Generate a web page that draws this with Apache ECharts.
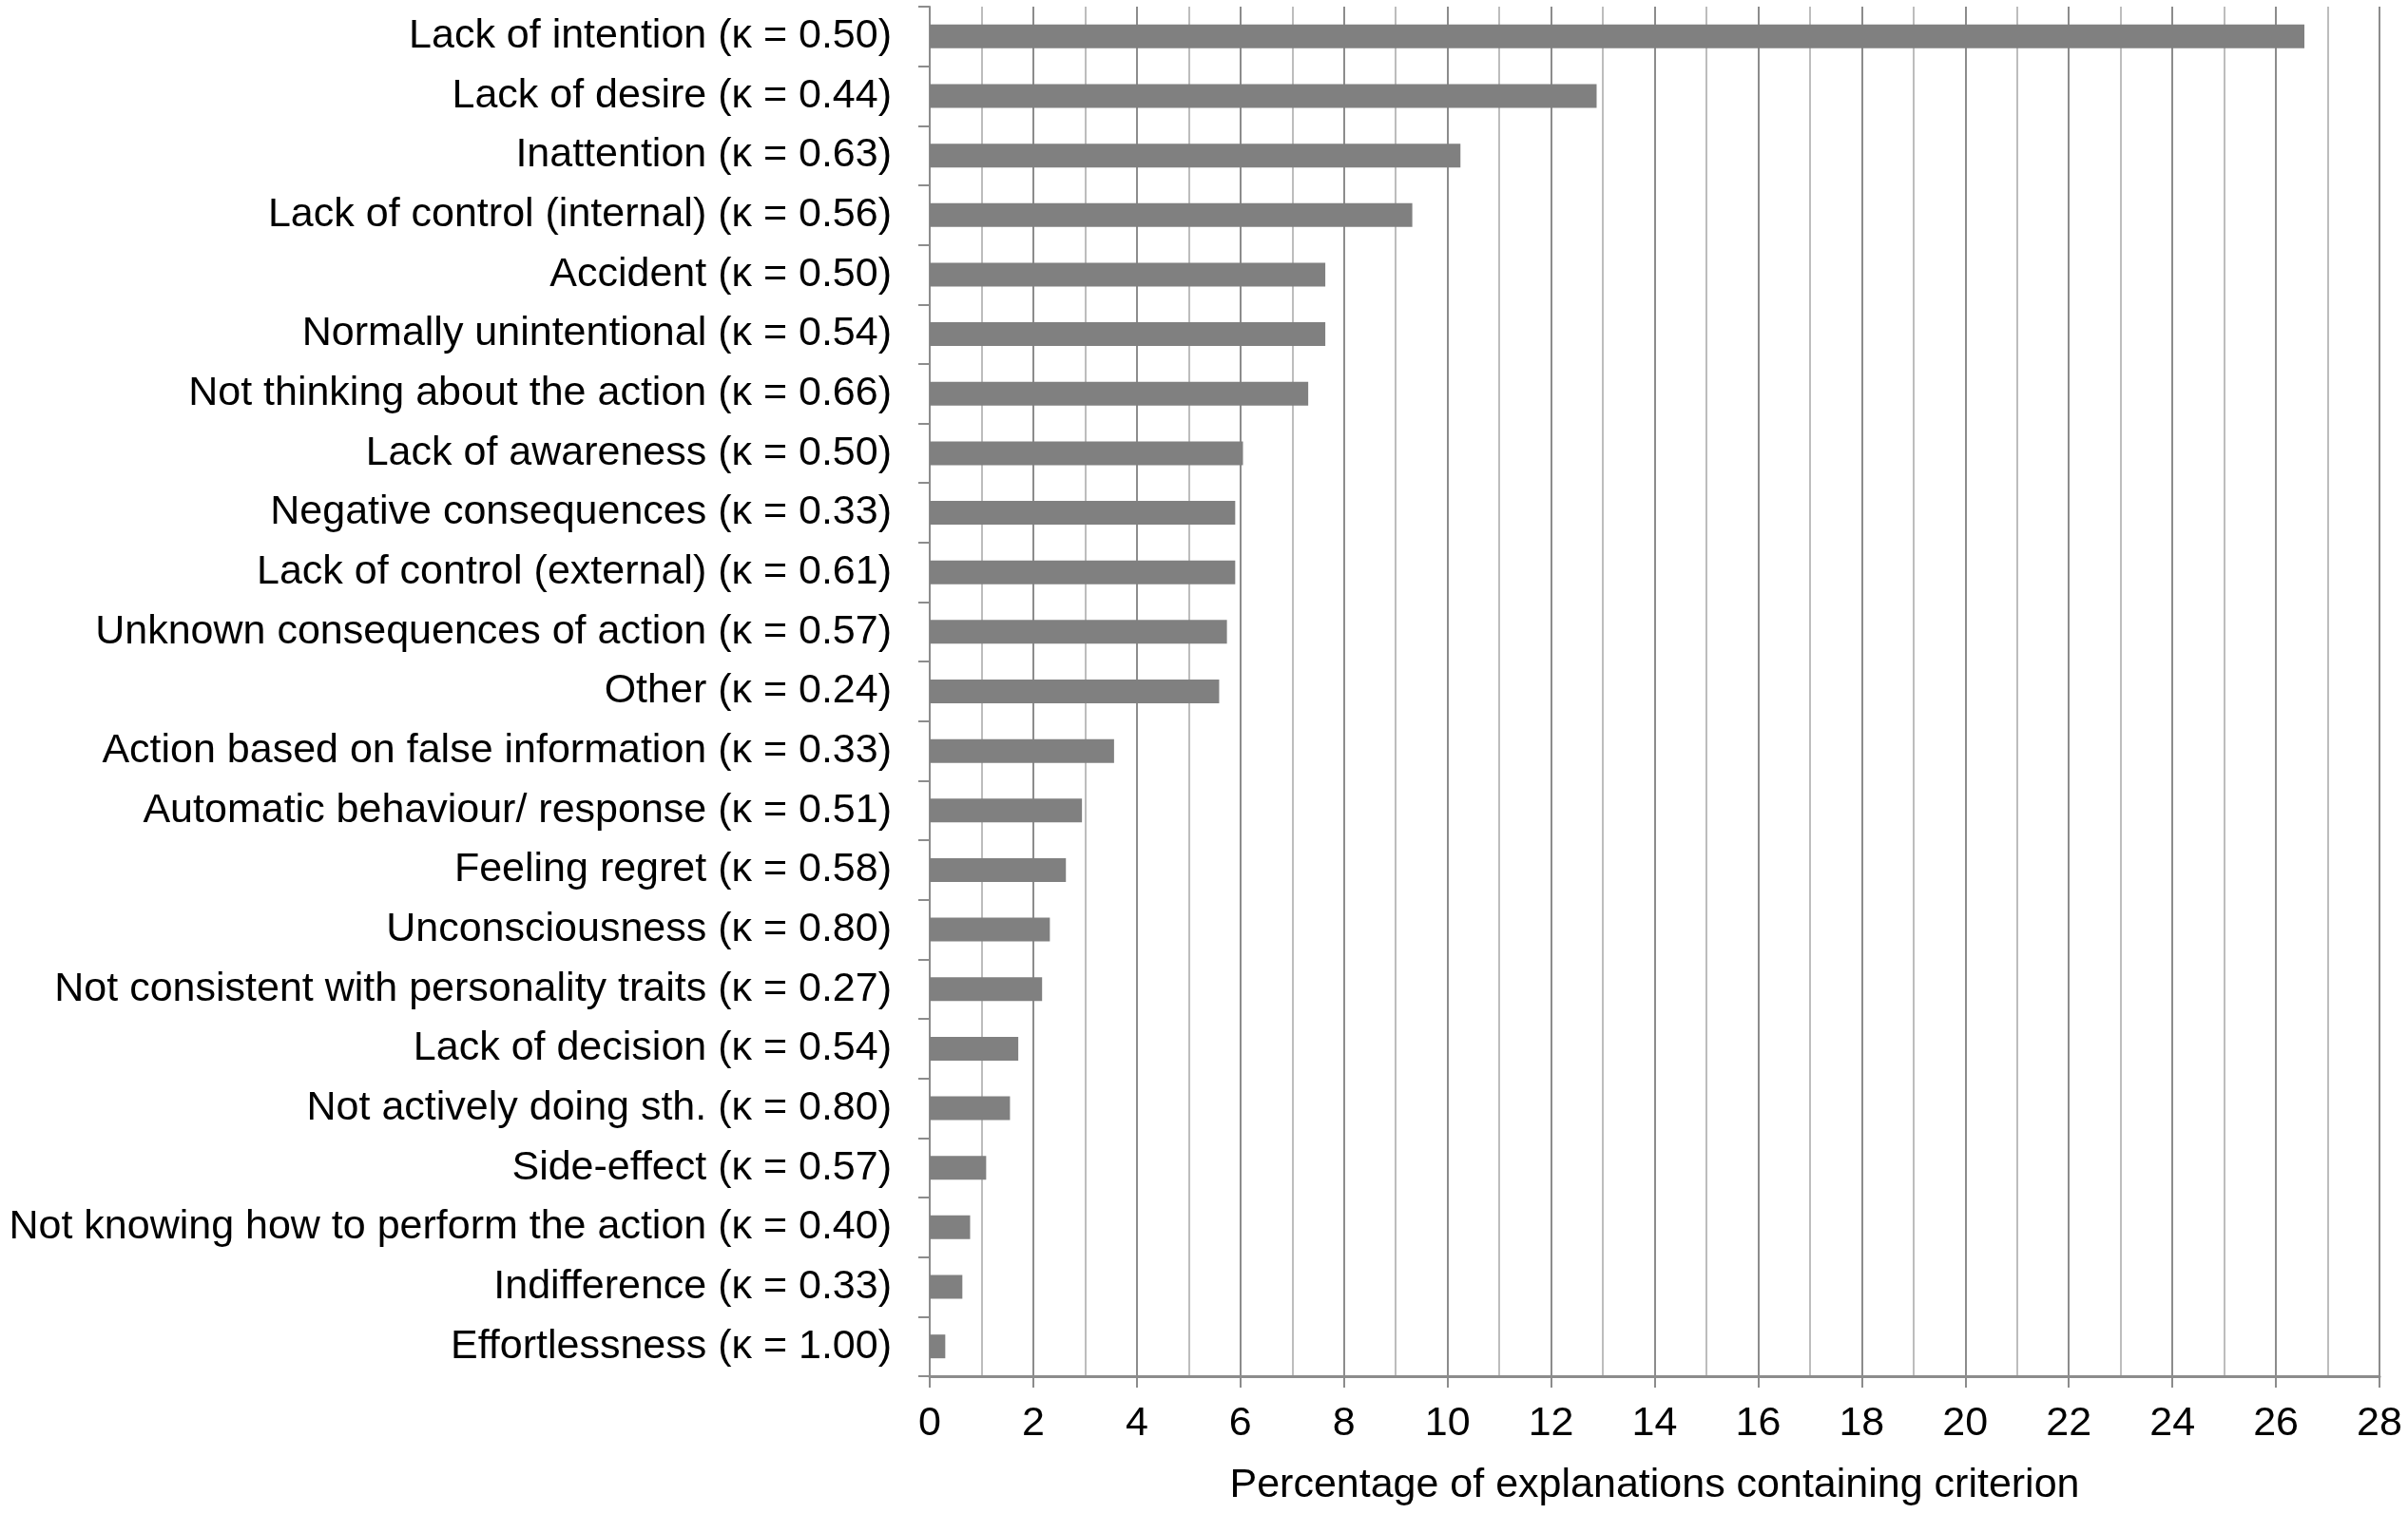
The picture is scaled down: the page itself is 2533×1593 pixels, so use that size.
<!DOCTYPE html>
<html>
<head>
<meta charset="utf-8">
<script src="https://cdn.jsdelivr.net/npm/echarts@6/dist/echarts.min.js"></script>
<style>
html,body{margin:0;padding:0;background:#fff;}
#chart{width:2533px;height:1593px;}
</style>
</head>
<body>
<div id="chart"></div>
<script>
const categories = [
  "Lack of intention (κ = 0.50)",
  "Lack of desire (κ = 0.44)",
  "Inattention (κ = 0.63)",
  "Lack of control (internal) (κ = 0.56)",
  "Accident (κ = 0.50)",
  "Normally unintentional (κ = 0.54)",
  "Not thinking about the action (κ = 0.66)",
  "Lack of awareness (κ = 0.50)",
  "Negative consequences (κ = 0.33)",
  "Lack of control (external) (κ = 0.61)",
  "Unknown consequences of action (κ = 0.57)",
  "Other (κ = 0.24)",
  "Action based on false information (κ = 0.33)",
  "Automatic behaviour/ response (κ = 0.51)",
  "Feeling regret (κ = 0.58)",
  "Unconsciousness (κ = 0.80)",
  "Not consistent with personality traits (κ = 0.27)",
  "Lack of decision (κ = 0.54)",
  "Not actively doing sth. (κ = 0.80)",
  "Side-effect (κ = 0.57)",
  "Not knowing how to perform the action (κ = 0.40)",
  "Indifference (κ = 0.33)",
  "Effortlessness (κ = 1.00)"
];
const percentages = [
  26.55, 12.88, 10.25, 9.32, 7.64, 7.64, 7.31, 6.05, 5.90, 5.90, 5.74, 5.59,
  3.56, 2.94, 2.63, 2.32, 2.17, 1.71, 1.55, 1.09, 0.78, 0.63, 0.30
];
const xTicks = { min: 0, max: 28, interval: 2 };
const xTitle = "Percentage of explanations containing criterion";

const FONT = "'Liberation Sans', Arial, Helvetica, sans-serif";
const chart = echarts.init(document.getElementById('chart'), null, {renderer: 'canvas'});
chart.setOption({
  animation: false,
  backgroundColor: '#ffffff',
  grid: { left: 978, right: 30, top: 7, bottom: 145, containLabel: false },
  xAxis: {
    type: 'value',
    min: xTicks.min, max: xTicks.max, interval: xTicks.interval,
    axisLine: { show: true, lineStyle: { color: '#8c8c8c', width: 3 } },
    axisTick: { show: true, length: 12, lineStyle: { color: '#8c8c8c', width: 2 } },
    axisLabel: { show: true, margin: 29, fontSize: 43, color: '#000', fontFamily: FONT },
    splitLine: { show: true, lineStyle: { color: '#8c8c8c', width: 2 } },
    minorTick: { show: false, splitNumber: 2 },
    minorSplitLine: { show: true, lineStyle: { color: '#bdbdbd', width: 2 } },
    name: xTitle,
    nameLocation: 'middle',
    nameGap: 94,
    nameTextStyle: { fontSize: 43, color: '#000', fontFamily: FONT }
  },
  yAxis: {
    type: 'category',
    inverse: true,
    data: categories,
    axisLine: { show: true, lineStyle: { color: '#8c8c8c', width: 2 } },
    axisTick: { show: true, length: 12, lineStyle: { color: '#8c8c8c', width: 2 } },
    axisLabel: { interval: 0, margin: 40, fontSize: 43, color: '#000', fontFamily: FONT, padding: [7, 0, 0, 0] },
    splitLine: { show: false }
  },
  series: [{
    type: 'bar',
    data: percentages,
    barWidth: 25,
    itemStyle: { color: '#808080' }
  }]
});
</script>
</body>
</html>
